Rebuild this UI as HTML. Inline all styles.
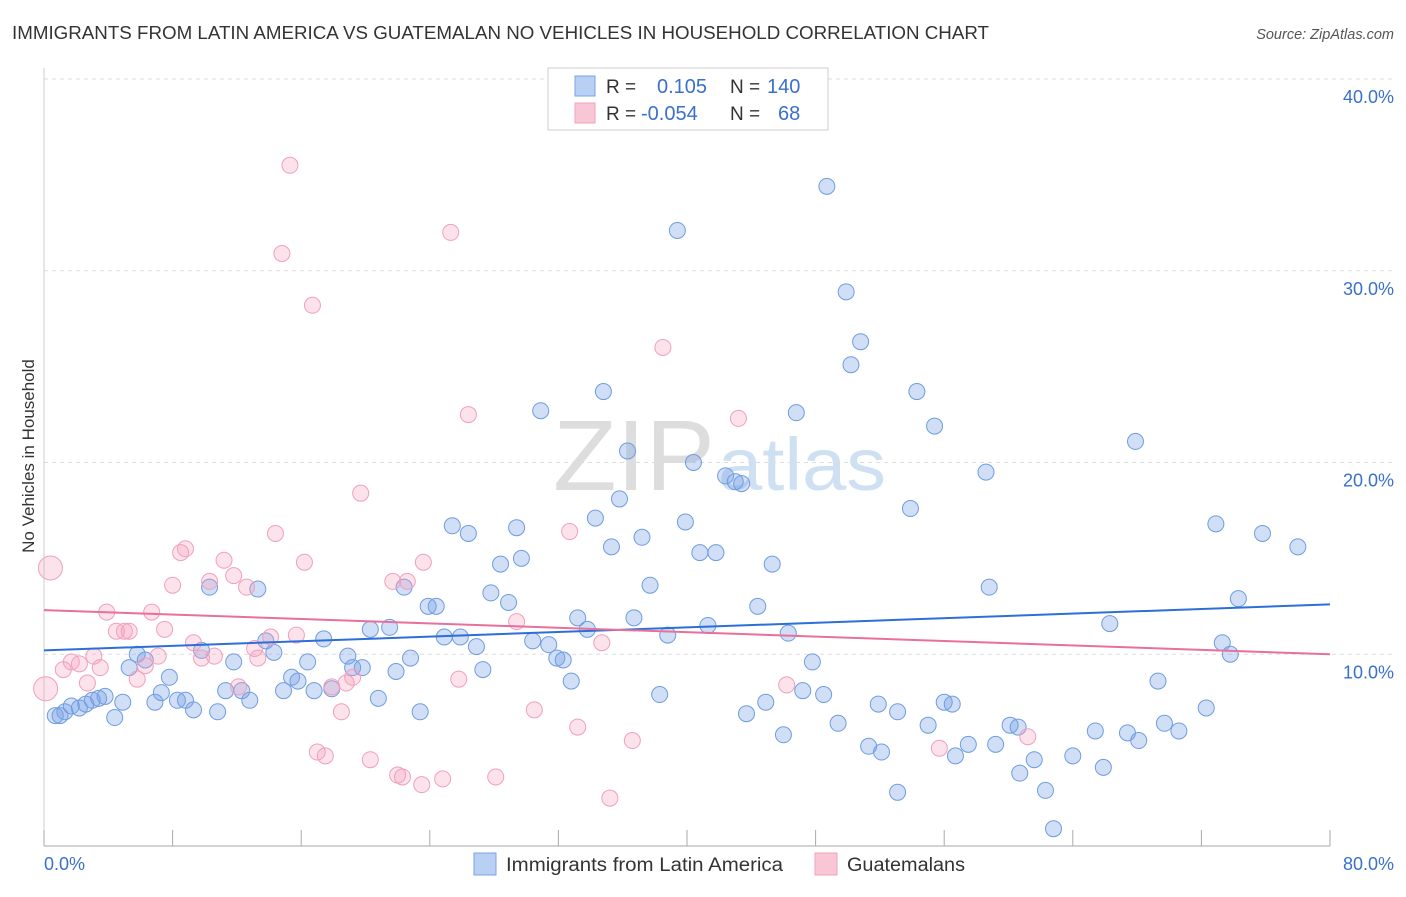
<!DOCTYPE html>
<html><head><meta charset="utf-8"><style>
body{margin:0;background:#fff;font-family:"Liberation Sans",sans-serif}
svg text{font-family:"Liberation Sans",sans-serif}
</style></head><body>
<svg id="chart" width="1406" height="892">
<text x="12" y="39" font-size="18" fill="#333" textLength="977" lengthAdjust="spacingAndGlyphs">IMMIGRANTS FROM LATIN AMERICA VS GUATEMALAN NO VEHICLES IN HOUSEHOLD CORRELATION CHART</text>
<text x="1394" y="39" font-size="14.5" fill="#555" font-style="italic" text-anchor="end">Source: ZipAtlas.com</text>
<text x="553" y="490" font-size="100" fill="#ddd" textLength="162" lengthAdjust="spacingAndGlyphs" font-family="Liberation Serif">ZIP</text>
<text x="718" y="490" font-size="74" fill="#cfe0f3" textLength="168" lengthAdjust="spacingAndGlyphs">atlas</text>
<text x="34" y="456" font-size="17" fill="#333" text-anchor="middle" transform="rotate(-90 34 456)">No Vehicles in Household</text>
<g id="grid"></g><g id="axes"></g><g id="pts"></g><g id="trend"></g>
<g>
<rect x="548" y="68" width="280" height="62" fill="#fff" stroke="#ccc"/>
<rect x="575" y="76" width="20" height="20" fill="#b8d0f3" stroke="#7ba3e0"/>
<rect x="575" y="103" width="20" height="20" fill="#f9c6d5" stroke="#f0a0bc"/>
<text x="606" y="93" font-size="19" fill="#333">R = </text><text x="657" y="93" font-size="20" fill="#3a70cc">0.105</text>
<text x="730" y="93" font-size="19" fill="#333">N = </text><text x="767" y="93" font-size="20" fill="#3a70cc">140</text>
<text x="606" y="120" font-size="19" fill="#333">R = </text><text x="641" y="120" font-size="20" fill="#3a70cc">-0.054</text>
<text x="730" y="120" font-size="19" fill="#333">N = </text><text x="778" y="120" font-size="20" fill="#3a70cc">68</text>
</g>
<g>
<rect x="474" y="853" width="22" height="22" fill="#b8d0f3" stroke="#7ba3e0"/>
<text x="506" y="871" font-size="19" fill="#333" textLength="277" lengthAdjust="spacingAndGlyphs">Immigrants from Latin America</text>
<rect x="815" y="853" width="22" height="22" fill="#f9c6d5" stroke="#f0a0bc"/>
<text x="847" y="871" font-size="19" fill="#333" textLength="118" lengthAdjust="spacingAndGlyphs">Guatemalans</text>
</g>
</svg>
<script>
const yTicks=[10,20,30,40];
const xTickLabels=["0.0%","80.0%"];
const blueX=[0.7,1.0,1.3,1.7,2.2,2.6,3.0,3.4,3.8,4.4,4.9,5.3,5.8,6.3,6.9,7.3,7.8,8.3,8.8,9.3,9.8,10.3,10.8,11.3,11.8,12.3,12.8,13.3,13.8,14.3,14.9,15.4,15.8,16.4,16.8,17.4,17.9,18.9,19.2,19.8,20.3,20.8,21.5,21.9,22.4,22.8,23.4,23.9,24.4,24.9,25.4,25.9,26.4,26.9,27.3,27.8,28.4,28.9,29.4,29.7,30.4,30.9,31.4,31.9,32.3,32.8,33.2,33.8,34.3,34.8,35.3,35.8,36.3,36.7,37.2,37.7,38.3,38.8,39.4,39.9,40.4,40.8,41.3,41.8,42.4,43.0,43.4,43.7,44.4,44.9,45.3,46.0,46.3,46.8,47.2,47.8,48.5,48.7,49.4,49.9,50.2,50.8,51.3,51.9,52.1,53.1,53.1,53.9,54.3,55.0,55.4,56.0,56.5,56.7,57.5,58.6,58.8,59.2,60.1,60.6,60.7,61.6,62.3,62.8,64.0,65.4,65.9,66.3,67.4,67.9,68.1,69.3,69.7,70.6,72.3,72.9,73.3,73.8,74.3,75.8,78.0];
const blueY=[6.8,6.8,7.0,7.3,7.2,7.4,7.6,7.7,7.8,6.7,7.5,9.3,10.0,9.7,7.5,8.0,8.8,7.6,7.6,7.1,10.2,13.5,7.0,8.1,9.6,8.1,7.6,13.4,10.7,10.1,8.1,8.8,8.6,9.6,8.1,10.8,8.2,9.9,9.3,9.3,11.3,7.7,11.4,9.1,13.5,9.8,7.0,12.5,12.5,10.9,16.7,10.9,16.3,10.4,9.2,13.2,14.7,12.7,16.6,15.0,10.7,22.7,10.5,9.8,9.7,8.6,11.9,11.3,17.1,23.7,15.6,18.1,20.6,11.9,16.1,13.6,7.9,11.0,32.1,16.9,20.0,15.3,11.5,15.3,19.3,19.0,18.9,6.9,12.5,7.5,14.7,5.8,11.1,22.6,8.1,9.6,7.9,34.4,6.4,28.9,25.1,26.3,5.2,7.4,4.9,2.8,7.0,17.6,23.7,6.3,21.9,7.5,7.4,4.7,5.3,19.5,13.5,5.3,6.3,6.2,3.8,4.5,2.9,0.9,4.7,6.0,4.1,11.6,5.9,21.1,5.5,8.6,6.4,6.0,7.2,16.8,10.6,10.0,12.9,16.3,15.6];
const pinkX=[0.4,0.1,1.2,1.7,2.2,2.7,3.1,3.5,3.9,4.5,5.0,5.3,5.8,6.3,6.7,7.1,7.5,8.0,8.5,8.8,9.3,9.8,10.3,10.6,11.2,11.8,12.1,12.6,13.1,13.3,14.1,14.4,14.8,15.3,15.7,16.2,16.7,17.0,17.5,17.9,18.5,18.8,19.2,19.7,20.3,21.7,22.0,22.3,22.6,23.5,23.6,24.8,25.3,25.8,26.4,28.1,29.4,30.5,32.7,33.2,34.7,35.2,36.6,38.5,43.2,46.2,55.7,61.2];
const pinkY=[14.5,8.2,9.2,9.6,9.5,8.5,9.9,9.3,12.2,11.2,11.2,11.2,8.7,9.4,12.2,9.9,11.3,13.6,15.3,15.5,10.6,9.8,13.8,9.9,14.9,14.1,8.3,13.5,10.3,9.8,10.9,16.3,30.9,35.5,11.0,14.8,28.2,4.9,4.7,8.3,7.0,8.5,8.8,18.4,4.5,13.8,3.7,3.6,13.8,3.2,14.8,3.5,32.0,8.7,22.5,3.6,11.7,7.1,16.4,6.2,10.6,2.5,5.5,26.0,22.3,8.4,5.1,5.7];
const blueTrend=[10.2,12.6];
const pinkTrend=[12.3,10.0];
const NS="http://www.w3.org/2000/svg";
const X=v=>44+v*(1286/80);
const Y=v=>846-v*19.175;
function mk(tag,attrs,parent){const e=document.createElementNS(NS,tag);for(const k in attrs)e.setAttribute(k,attrs[k]);document.getElementById(parent).appendChild(e);return e;}
yTicks.forEach(t=>{
  const l=mk('line',{x1:44,x2:1394,y1:Y(t),y2:Y(t),stroke:'#ddd','stroke-dasharray':'4,4'},'grid');
  
  
  const tx=mk('text',{x:1394,y:Y(t)+24,'font-size':18,fill:'#3a70cc','text-anchor':'end'},'grid');
  tx.textContent=t.toFixed(1)+'%';
  
  
});
const ax=mk('line',{x1:44,x2:1330,y1:846,y2:846,stroke:'#aaa'},'axes');


const ay=mk('line',{x1:44,x2:44,y1:68,y2:846,stroke:'#ccc'},'axes');


for(let i=0;i<=10;i++){const t=mk('line',{x1:X(i*8),x2:X(i*8),y1:830,y2:846,stroke:'#aaa'},'axes');

}
[[0,'start',44],[80,'end',1394]].forEach((d,i)=>{const t=mk('text',{x:d[2],y:870,'font-size':18,fill:'#3a70cc','text-anchor':d[1]},'axes');t.textContent=xTickLabels[i];

});
blueX.forEach((x,i)=>{const c=mk('circle',{cx:X(x),cy:Y(blueY[i]),r:8,fill:'rgba(120,160,230,0.35)',stroke:'#6f9de0','stroke-width':1},'pts');

});
pinkX.forEach((x,i)=>{const c=mk('circle',{cx:X(x),cy:Y(pinkY[i]),r:i<2?12:8,fill:'rgba(245,160,190,0.3)',stroke:'#f0a0bc','stroke-width':1},'pts');

});
const bl=mk('line',{x1:X(0),x2:X(80),y1:Y(blueTrend[0]),y2:Y(blueTrend[1]),stroke:'#2c6fd6','stroke-width':2},'trend');


const pl=mk('line',{x1:X(0),x2:X(80),y1:Y(pinkTrend[0]),y2:Y(pinkTrend[1]),stroke:'#e8709a','stroke-width':2},'trend');


</script>
</body></html>
